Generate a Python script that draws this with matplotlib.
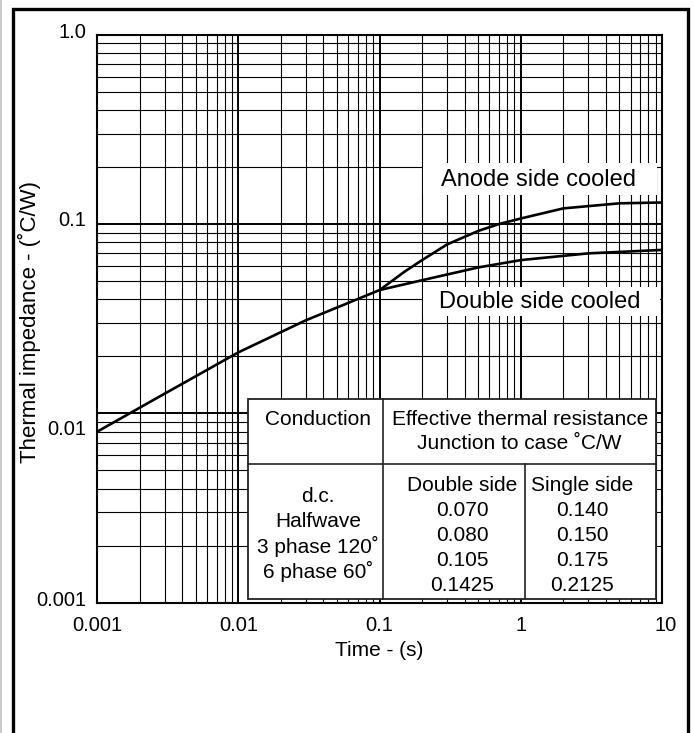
import numpy as np
import matplotlib
matplotlib.use('Agg')
import matplotlib.pyplot as plt
from matplotlib.patches import Rectangle
from matplotlib.lines import Line2D
from matplotlib.transforms import ScaledTranslation
from matplotlib.ticker import FixedLocator, FixedFormatter, LogLocator, NullFormatter

plt.rcParams['font.family'] = ['Liberation Sans', 'DejaVu Sans']

# curves
t_double = [0.001, 0.003, 0.01, 0.03, 0.1, 0.2, 0.5, 1.0, 3.0, 10.0]
z_double = [0.0080, 0.0127, 0.0210, 0.0310, 0.0448, 0.0505, 0.0590, 0.0645, 0.0700, 0.0730]

t_anode = [0.1, 0.15, 0.2, 0.3, 0.5, 0.7, 1.0, 2.0, 5.0, 10.0]
z_anode = [0.0448, 0.0560, 0.0645, 0.0780, 0.0920, 0.1000, 0.1070, 0.1210, 0.1287, 0.1300]

x_ticks = [0.001, 0.01, 0.1, 1, 10]
x_ticklabels = ['0.001', '0.01', '0.1', '1', '10']
y_ticks = [0.001, 0.01, 0.1, 1.0]
y_ticklabels = ['0.001', '0.01', '0.1', '1.0']

# table contents
conduction = ['d.c.', 'Halfwave', '3 phase 120˚', '6 phase 60˚']
double_side = ['0.070', '0.080', '0.105', '0.1425']
single_side = ['0.140', '0.150', '0.175', '0.2125']

fig = plt.figure(figsize=(6.95, 7.33), dpi=100)
ax = fig.add_axes([0.140, 0.178, 0.8125, 0.7745])

ax.plot(t_double, z_double, color='k', lw=1.9, zorder=3)
ax.plot(t_anode, z_anode, color='k', lw=1.9, zorder=3)

ax.set_xscale('log')
ax.set_yscale('log')
ax.set_xlim(0.001, 10)
ax.set_ylim(0.001, 1.0)

ax.xaxis.set_major_locator(FixedLocator(x_ticks))
ax.xaxis.set_major_formatter(FixedFormatter(x_ticklabels))
ax.yaxis.set_major_locator(FixedLocator(y_ticks))
ax.yaxis.set_major_formatter(FixedFormatter(y_ticklabels))
for a in (ax.xaxis, ax.yaxis):
    a.set_minor_locator(LogLocator(base=10, subs=np.arange(2, 10), numticks=20))
    a.set_minor_formatter(NullFormatter())

ax.grid(which='major', color='k', lw=1.4)
ax.grid(which='minor', color='k', lw=0.8)
ax.tick_params(which='both', length=0, labelsize=14.5)
ax.tick_params(axis='x', pad=10)
ax.tick_params(axis='y', pad=8)
for s in ax.spines.values():
    s.set_linewidth(1.5)

# the printed y labels sit a little off their grid lines
fig.canvas.draw()
y_shift = [4, -14, 6, 4]
for lab, dy in zip(ax.get_yticklabels(), y_shift):
    lab.set_transform(lab.get_transform() + ScaledTranslation(0, dy / 100, fig.dpi_scale_trans))
xlabs = ax.get_xticklabels()
xlabs[-1].set_transform(xlabs[-1].get_transform() + ScaledTranslation(0.04, 0, fig.dpi_scale_trans))

ax.set_xlabel('Time - (s)', fontsize=15, labelpad=4)
ax.set_ylabel('Thermal impedance - (˚C/W)', fontsize=16)
ax.yaxis.set_label_coords(-0.100, 0.494)

# curve labels on white boxes
ax.add_patch(Rectangle((0.576, 0.718), 0.415, 0.056, transform=ax.transAxes,
                       facecolor='white', edgecolor='none', zorder=2.5))
ax.text(0.782, 0.745, 'Anode side cooled', transform=ax.transAxes,
        ha='center', va='center', fontsize=17, zorder=4)
ax.add_patch(Rectangle((0.577, 0.504), 0.419, 0.052, transform=ax.transAxes,
                       facecolor='white', edgecolor='none', zorder=2.5))
ax.text(0.784, 0.530, 'Double side cooled', transform=ax.transAxes,
        ha='center', va='center', fontsize=17, zorder=4)

# table
tl, tr, tt, tb = 0.2675, 0.9894, 0.358, 0.0062
hdiv, v1, v2 = 0.2441, 0.5065, 0.7574
ax.add_patch(Rectangle((tl, tb), tr - tl, tt - tb, transform=ax.transAxes,
                       facecolor='white', edgecolor='#222222', lw=1.3, zorder=5))
ax.plot([tl, tr], [hdiv, hdiv], transform=ax.transAxes, color='#222222', lw=1.2, zorder=6)
ax.plot([v1, v1], [tb, tt], transform=ax.transAxes, color='#222222', lw=1.2, zorder=6)
ax.plot([v2, v2], [tb, hdiv], transform=ax.transAxes, color='#222222', lw=1.2, zorder=6)

fs = 15
ax.text(0.391, 0.3228, 'Conduction', transform=ax.transAxes, ha='center', va='center', fontsize=fs, zorder=7)
ax.text(0.748, 0.3228, 'Effective thermal resistance', transform=ax.transAxes, ha='center', va='center', fontsize=fs, zorder=7)
ax.text(0.747, 0.2805, 'Junction to case ˚C/W', transform=ax.transAxes, ha='center', va='center', fontsize=fs, zorder=7)

step = 0.0441
for i, s in enumerate(conduction):
    ax.text(0.391, 0.1864 - i * step, s, transform=ax.transAxes, ha='center', va='center', fontsize=fs, zorder=7)
for i, s in enumerate(['Double side'] + double_side):
    ax.text(0.6458, 0.207 - i * step, s, transform=ax.transAxes, ha='center', va='center', fontsize=fs, zorder=7)
for i, s in enumerate(['Single side'] + single_side):
    ax.text(0.8592, 0.207 - i * step, s, transform=ax.transAxes, ha='center', va='center', fontsize=fs, zorder=7)

# outer frame
fig.add_artist(Rectangle((0.0194, -0.05), 0.9706, 1.0384, transform=fig.transFigure,
                         facecolor='none', edgecolor='k', lw=2.4))
fig.add_artist(Line2D([0.0015, 0.0015], [0, 1], transform=fig.transFigure, color='#cccccc', lw=1.5))

fig.savefig('out.png', dpi=100)
